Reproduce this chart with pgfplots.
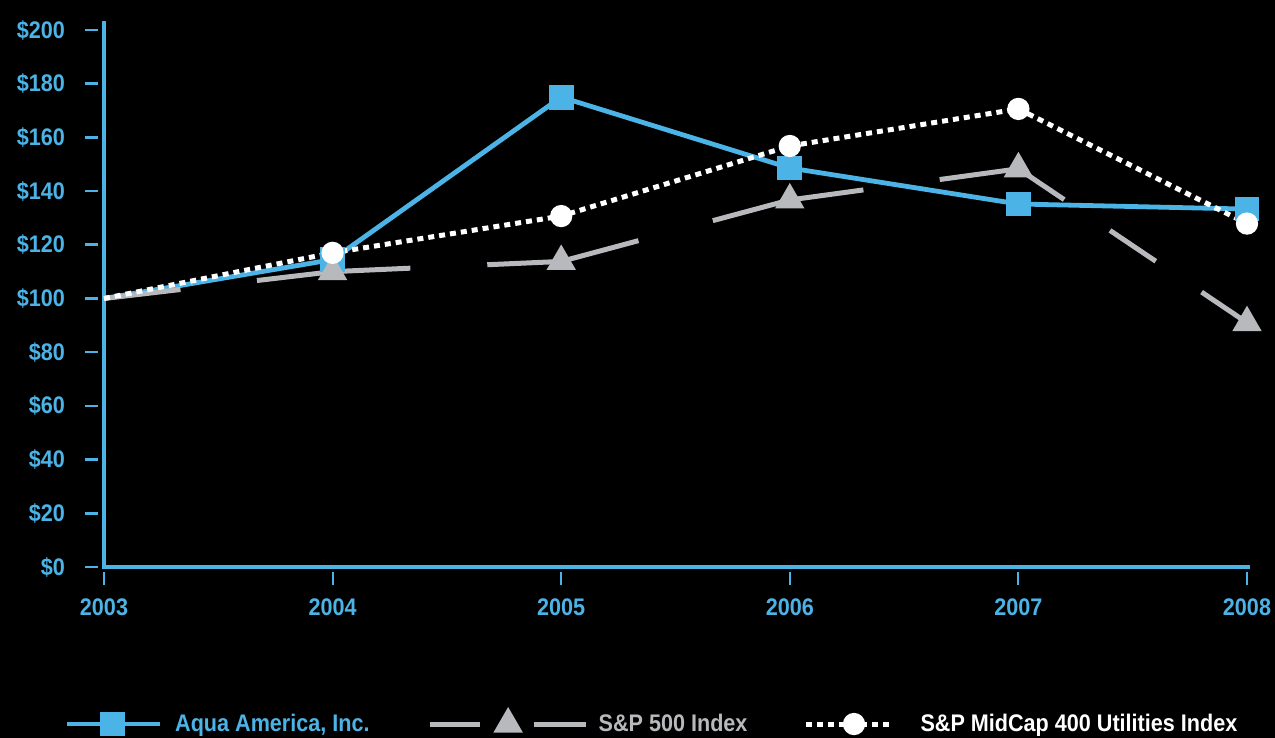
\documentclass[border=0pt]{standalone}
\usepackage{fontspec}
\setmainfont{Liberation Sans}[FakeStretch=0.9]
\usepackage{pgfplots}
\pgfplotsset{compat=1.18}
\definecolor{aqua}{RGB}{75,179,230}
\definecolor{spgrey}{RGB}{184,185,189}
\newcommand{\lblfont}{\bfseries\fontsize{12}{14}\selectfont}
\pgfplotsset{
    aqualeg/.style={legend image code/.code={\draw[##1, mark repeat=2, mark phase=2]
        plot coordinates {(0pt,0pt) (23pt,0pt) (46.5pt,0pt)};}},
    spleg/.style={legend image code/.code={\draw[##1, dash pattern=on 25pt off 27pt on 26pt,
        dash phase=0pt, mark repeat=2, mark phase=2]
        plot coordinates {(0pt,0pt) (39pt,0pt) (78pt,0pt)};}},
    midleg/.style={legend image code/.code={\draw[##1, mark repeat=2, mark phase=2]
        plot coordinates {(0pt,0pt) (24pt,0pt) (43pt,0pt)};}},
}
\begin{document}
\begin{tikzpicture}
\fill[black] (-52pt,-85.5pt) rectangle (585.5pt,283.5pt);
\begin{axis}[
    at={(0,0)}, anchor=south west,
    scale only axis, width=571.5pt, height=268.5pt,
    xmin=2003, xmax=2008, ymin=0, ymax=200,
    axis x line=bottom, axis y line=left,
    axis line style={-, line width=2pt, aqua},
    y axis line style={shorten >=-4.5pt},
    x axis line style={shorten >=-1.5pt, shorten <=-1pt},
    xtick={2003,2004,2005,2006,2007,2008},
    xticklabels={2003,2004,2005,2006,2007,2008},
    ytick={0,20,40,60,80,100,120,140,160,180,200},
    yticklabels={\$0,\$20,\$40,\$60,\$80,\$100,\$120,\$140,\$160,\$180,\$200},
    tick align=outside, major tick length=6.5pt,
    xtick style={aqua, line width=1pt, yshift=-2.5pt},
    ytick style={aqua, line width=1.3pt, xshift=-3pt},
    xticklabel shift=6pt, yticklabel shift=9.5pt,
    tick label style={font=\lblfont, text=aqua},
    clip=false,
    legend columns=3,
    legend style={at={(-0.035,-0.2924)}, anchor=west, draw=none, fill=none,
        inner sep=0pt, font=\lblfont,
        /tikz/column 1/.style={column sep=4.5pt},
        /tikz/column 2/.style={column sep=27pt},
        /tikz/column 3/.style={column sep=3pt},
        /tikz/column 4/.style={column sep=26pt},
        /tikz/column 5/.style={column sep=11pt}},
]

% Aqua America
\addplot[aqua, line width=2.4pt, mark=square*, mark size=5pt, mark phase=2,
    mark options={solid}, aqualeg]
coordinates {
    (2003,100) (2004,114.5) (2005,175) (2006,148.6) (2007,135.2) (2008,133.3)
};
\addlegendentry{\textcolor{aqua}{Aqua America, Inc.}}

% S&P 500 (2003-2007)
\addplot[spgrey, line width=2.5pt, mark=triangle*, mark size=6pt, mark phase=2,
    mark options={solid}, dash pattern=on 77pt off 38.5pt, dash phase=38.5pt, spleg]
coordinates {
    (2003,100) (2004,110) (2005,113.8) (2006,136.7) (2007,148.3)
};
\addlegendentry{\textcolor{spgrey}{S\&P 500 Index}}

% S&P MidCap 400 Utilities
\addplot[white, line width=2.5pt, mark=*, mark size=4.3pt, mark phase=2,
    mark options={solid}, dash pattern=on 3pt off 2.5pt, midleg]
coordinates {
    (2003,100) (2004,117) (2005,130.7) (2006,156.8) (2007,170.6) (2008,127.9)
};
\addlegendentry{\textcolor{white}{S\&P MidCap 400 Utilities Index}}

% S&P 500 (2007-2008)
\addplot[spgrey, line width=2.5pt, mark=triangle*, mark size=6pt, mark phase=2,
    mark options={solid}, dash pattern=on 27.6pt off 27.6pt, forget plot]
coordinates {
    (2007,148.3) (2008,91)
};

\end{axis}
\pgfresetboundingbox
\path[use as bounding box] (-52pt,-85.5pt) rectangle (585.5pt,283.5pt);
\end{tikzpicture}
\end{document}
